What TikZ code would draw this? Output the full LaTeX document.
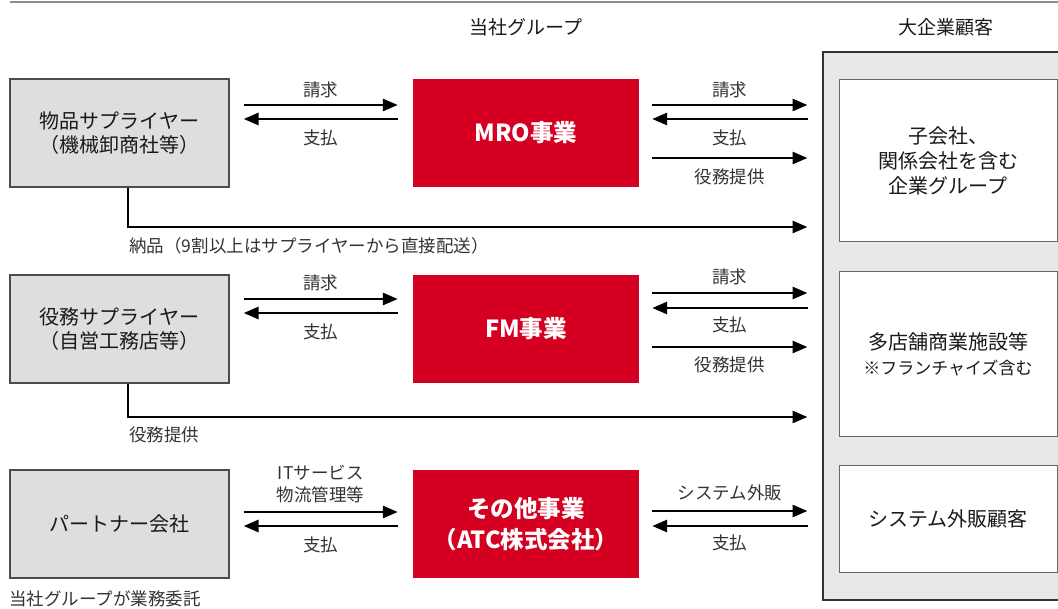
\documentclass[tikz,border=0pt]{standalone}
\usepackage{fontspec}
\setmainfont{Noto Sans CJK JP}
\usetikzlibrary{arrows.meta}
\definecolor{bizred}{HTML}{D50021}
\begin{document}
\begin{tikzpicture}[x=1pt, y=-1pt,
    supbox/.style={draw=black!70, line width=1.2pt, fill=black!13, minimum width=219pt, minimum height=108pt, align=center, text=black!90, font=\fontsize{20}{24}\selectfont},
    bizbox/.style={fill=bizred, text=white, minimum width=226pt, minimum height=108pt, align=center, font=\bfseries\fontsize{23.5}{31}\selectfont},
    custbox/.style={draw=black!60, line width=1pt, fill=white, minimum width=218pt, align=center, text=black!90, font=\fontsize{20}{25}\selectfont},
    hdr/.style={text=black!90, font=\fontsize{19}{19}\selectfont},
    arr/.style={line width=2.8pt, -{Triangle[length=15pt,width=12pt]}},
    lbl/.style={font=\fontsize{17.5}{22}\selectfont, text=black!80, align=center, inner sep=1pt}]

        \useasboundingbox (0,0) rectangle (1058,609);

        % top rule and headings
        \draw[black!45, line width=1.5pt] (10,2) -- (1058,2);
        \node[hdr] (hdrgroup) at (526,27) {当社グループ};
        \node[hdr] (hdrcust) at (946,27) {大企業顧客};

        % suppliers
        \node[supbox] (sup1) at (119.5,133) {物品サプライヤー\\（機械卸商社等）};
        \node[supbox] (sup2) at (119.5,329) {役務サプライヤー\\（自営工務店等）};
        \node[supbox] (partner) at (119.5,524) {パートナー会社};
        \node[lbl, anchor=west] (note) at (8,599) {当社グループが業務委託};

        % our businesses
        \node[bizbox] (mro) at (526,133) {MRO事業};
        \node[bizbox] (fm) at (526,329) {FM事業};
        \node[bizbox] (other) at (526,524) {その他事業\\（ATC株式会社）};

        % customers
        \node[draw=black!80, line width=2pt, fill=black!9, minimum width=242pt, minimum height=548pt] (big) at (944,326) {};
        \node[custbox, minimum height=162pt] (cust1) at (948,161) {子会社、\\関係会社を含む\\企業グループ};
        \node[custbox, minimum height=165pt] (cust2) at (948,354.5) {多店舗商業施設等\\{\fontsize{17}{22}\selectfont ※フランチャイズ含む}};
        \node[custbox, minimum height=106pt] (cust3) at (948,519) {システム外販顧客};

        % MRO flows
        \draw[arr] ([xshift=14pt,yshift=28pt]sup1.east) -- node[lbl, yshift=15pt] {請求} ([xshift=-15pt,yshift=28pt]mro.west);
        \draw[arr] ([xshift=-15pt,yshift=14pt]mro.west) -- node[lbl, yshift=-19pt] {支払} ([xshift=14pt,yshift=14pt]sup1.east);
        \draw[arr] ([xshift=13pt,yshift=28pt]mro.east) -- node[lbl, yshift=15pt] {請求} ([xshift=-31pt,yshift=56pt]cust1.west);
        \draw[arr] ([xshift=-31pt,yshift=42pt]cust1.west) -- node[lbl, yshift=-19pt] {支払} ([xshift=13pt,yshift=14pt]mro.east);
        \draw[arr] ([xshift=13pt,yshift=-25pt]mro.east) -- node[lbl, yshift=-19pt] {役務提供} ([xshift=-31pt,yshift=3pt]cust1.west);
        \draw[arr] ([xshift=8.5pt]sup1.south) |- node[lbl, anchor=west, xshift=-1pt, yshift=-19pt] {納品（9割以上はサプライヤーから直接配送）} ([xshift=-31pt,yshift=-66pt]cust1.west);

        % FM flows
        \draw[arr] ([xshift=14pt,yshift=30pt]sup2.east) -- node[lbl, yshift=16pt] {請求} ([xshift=-15pt,yshift=30pt]fm.west);
        \draw[arr] ([xshift=-15pt,yshift=16pt]fm.west) -- node[lbl, yshift=-19pt] {支払} ([xshift=14pt,yshift=16pt]sup2.east);
        \draw[arr] ([xshift=13pt,yshift=36pt]fm.east) -- node[lbl, yshift=16pt] {請求} ([xshift=-31pt,yshift=61.5pt]cust2.west);
        \draw[arr] ([xshift=-31pt,yshift=46.5pt]cust2.west) -- node[lbl, yshift=-17pt] {支払} ([xshift=13pt,yshift=21pt]fm.east);
        \draw[arr] ([xshift=13pt,yshift=-18pt]fm.east) -- node[lbl, yshift=-18pt] {役務提供} ([xshift=-31pt,yshift=7.5pt]cust2.west);
        \draw[arr] ([xshift=8.5pt]sup2.south) |- node[lbl, anchor=west, xshift=-1pt, yshift=-18pt] {役務提供} ([xshift=-31pt,yshift=-62.5pt]cust2.west);

        % other flows
        \draw[arr] ([xshift=14pt,yshift=12pt]partner.east) -- node[lbl, yshift=28pt] {ITサービス\\物流管理等} ([xshift=-15pt,yshift=12pt]other.west);
        \draw[arr] ([xshift=-15pt,yshift=-2pt]other.west) -- node[lbl, yshift=-19pt] {支払} ([xshift=14pt,yshift=-2pt]partner.east);
        \draw[arr] ([xshift=13pt,yshift=13pt]other.east) -- node[lbl, yshift=18pt] {システム外販} ([xshift=-31pt,yshift=8pt]cust3.west);
        \draw[arr] ([xshift=-31pt,yshift=-7pt]cust3.west) -- node[lbl, yshift=-17pt] {支払} ([xshift=13pt,yshift=-2pt]other.east);
    \end{tikzpicture}
\end{document}
